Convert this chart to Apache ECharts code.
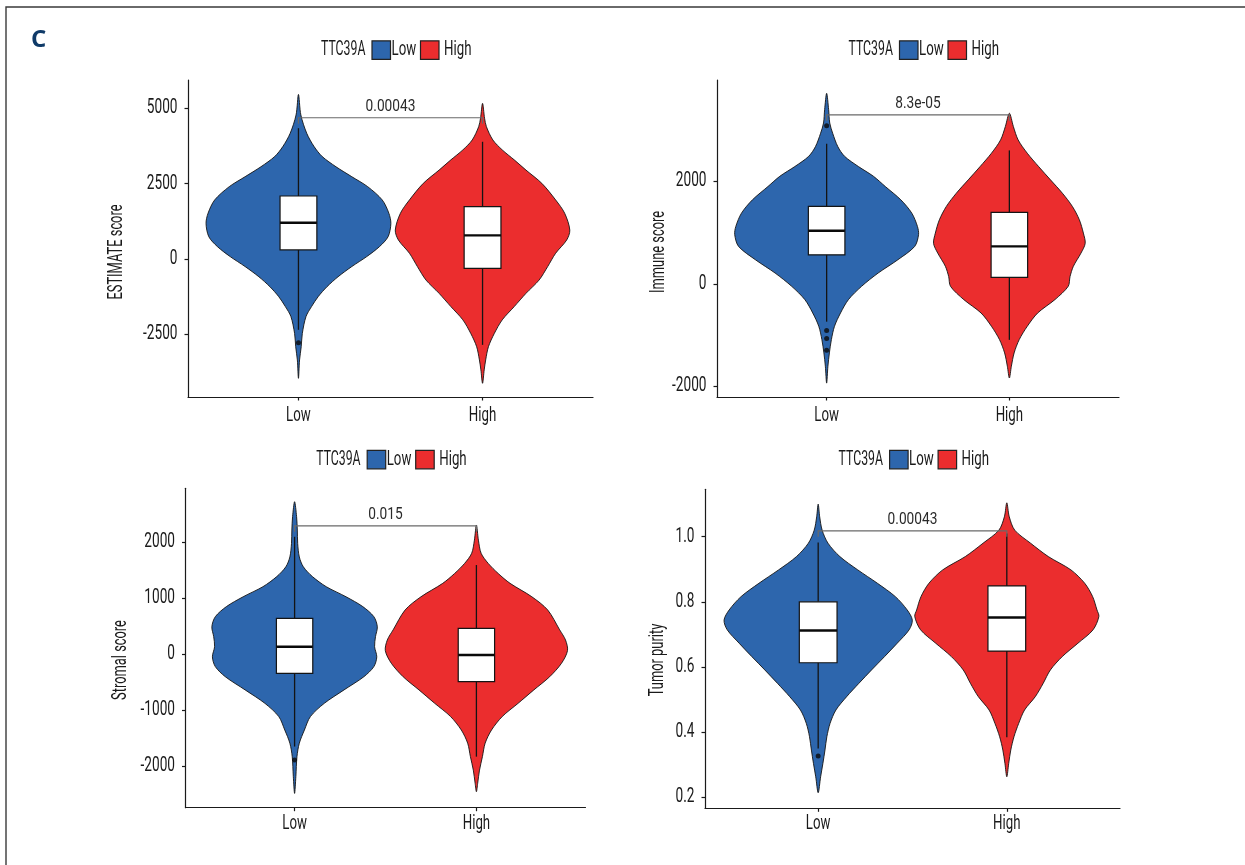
<!DOCTYPE html>
<html>
<head>
<meta charset="utf-8">
<script src="https://cdn.jsdelivr.net/npm/echarts@6/dist/echarts.min.js"></script>
<style>
  html, body { margin: 0; padding: 0; background: #ffffff; }
  #chart { width: 1245px; height: 865px; }
</style>
</head>
<body>
<div id="chart"></div>
<script>
// ---- data -------------------------------------------------------------
const categories = ['Low', 'High'];
const legendTitle = 'TTC39A';
const panelTitles = ['ESTIMATE score', 'Immune score', 'Stromal score', 'Tumor purity'];
const pValues = ['0.00043', '8.3e-05', '0.015', '0.00043'];
const bracketLevels = [4688, 3300, 2285, 1.018];

// y-axis ticks
const estimateTicks = [-2500, 0, 2500, 5000];
const immuneTicks = [-2000, 0, 2000];
const stromalTicks = [-2000, -1000, 0, 1000, 2000];
const purityTicks = [0.2, 0.4, 0.6, 0.8, 1.0];

// violin outlines: [score, half width of the violin in category units]
const estimateLowViolin = [[5460,0],[4780,0.013],[4170,0.045],[3730,0.085],[3400,0.129],[3060,0.204],[2730,0.290],[2400,0.376],[1960,0.455],[1520,0.491],[1180,0.502],[740,0.487],[410,0.440],[80,0.371],[-250,0.290],[-590,0.215],[-920,0.155],[-1250,0.107],[-1580,0.071],[-1910,0.041],[-2470,0.021],[-2910,0.015],[-3350,0.006],[-3960,0]];
const estimateHighViolin = [[5165,0],[4670,0.011],[4390,0.021],[3950,0.056],[3620,0.107],[3290,0.172],[2950,0.236],[2510,0.322],[1960,0.397],[1520,0.446],[960,0.474],[630,0.457],[190,0.397],[-250,0.354],[-700,0.307],[-1140,0.236],[-1580,0.172],[-2020,0.107],[-2470,0.064],[-2910,0.032],[-3350,0.017],[-3680,0.009],[-4125,0]];
const immuneLowViolin = [[3720,0],[3400,0.011],[3140,0.017],[2940,0.033],[2680,0.061],[2490,0.098],[2290,0.174],[2100,0.256],[1900,0.321],[1640,0.406],[1380,0.466],[1120,0.497],[960,0.503],[730,0.482],[470,0.390],[210,0.282],[-50,0.191],[-310,0.119],[-570,0.076],[-830,0.043],[-1090,0.026],[-1350,0.015],[-1610,0.007],[-1940,0]];
const immuneHighViolin = [[3330,0],[3070,0.022],[2810,0.048],[2550,0.098],[2290,0.160],[2030,0.225],[1770,0.290],[1510,0.345],[1250,0.383],[990,0.405],[790,0.415],[600,0.392],[340,0.350],[140,0.332],[-50,0.322],[-310,0.249],[-570,0.155],[-830,0.098],[-1090,0.054],[-1350,0.026],[-1610,0.011],[-1840,0]];
const stromalLowViolin = [[2715,0],[2450,0.011],[2210,0.015],[1970,0.017],[1730,0.026],[1555,0.048],[1380,0.098],[1200,0.174],[1020,0.283],[845,0.375],[665,0.436],[485,0.455],[310,0.445],[130,0.440],[-50,0.452],[-225,0.436],[-405,0.381],[-640,0.272],[-880,0.163],[-1115,0.087],[-1355,0.054],[-1590,0.026],[-1830,0.013],[-2185,0.007],[-2485,0]];
const stromalHighViolin = [[2300,0],[2030,0.011],[1795,0.026],[1615,0.065],[1435,0.120],[1260,0.185],[1020,0.305],[785,0.392],[430,0.458],[250,0.490],[60,0.501],[-165,0.468],[-405,0.403],[-640,0.316],[-880,0.229],[-1115,0.142],[-1355,0.083],[-1590,0.048],[-1830,0.033],[-2070,0.017],[-2305,0.007],[-2455,0]];
const purityLowViolin = [[1.100,0],[1.061,0.008],[1.020,0.021],[0.980,0.052],[0.939,0.115],[0.898,0.210],[0.857,0.314],[0.816,0.409],[0.775,0.472],[0.744,0.499],[0.714,0.482],[0.673,0.419],[0.632,0.352],[0.591,0.283],[0.550,0.216],[0.509,0.151],[0.468,0.094],[0.427,0.063],[0.386,0.046],[0.345,0.036],[0.304,0.025],[0.263,0.013],[0.214,0]];
const purityHighViolin = [[1.104,0],[1.061,0.013],[1.020,0.042],[0.980,0.126],[0.939,0.220],[0.898,0.340],[0.857,0.413],[0.816,0.455],[0.775,0.478],[0.755,0.488],[0.714,0.457],[0.673,0.377],[0.632,0.294],[0.591,0.231],[0.550,0.193],[0.509,0.151],[0.468,0.094],[0.427,0.063],[0.386,0.038],[0.345,0.021],[0.304,0.010],[0.263,0]];

// box statistics: [lower whisker, Q1, median, Q3, upper whisker]
const estimateLowBox = [-2350, 300, 1205, 2090, 4340];
const estimateHighBox = [-2850, -310, 785, 1735, 3890];
const immuneLowBox = [-740, 566, 1035, 1510, 2735];
const immuneHighBox = [-1095, 124, 730, 1393, 2605];
const stromalLowBox = [-1650, -345, 130, 636, 2090];
const stromalHighBox = [-1830, -493, -18, 457, 1586];
const purityLowBox = [0.350, 0.613, 0.712, 0.800, 0.982];
const purityHighBox = [0.384, 0.649, 0.752, 0.849, 1.010];

// outliers: [group (1 = Low, 2 = High), score]
const estimateOutliers = [[1, -2780]];
const immuneOutliers = [[1, 3085], [1, -910], [1, -1070], [1, -1300]];
const stromalOutliers = [[1, -1890]];
const purityOutliers = [[1, 0.327]];

// ---- layout & style ---------------------------------------------------
const FONT = "Roboto, 'DejaVu Sans', sans-serif";
const TEXT_COLOR = '#1a1a1a';
const GROUP_COLORS = ['#2d66ad', '#eb2d2e'];
const BOX_HALF = 0.1;
const X_MIN = 0.4, X_MAX = 2.6;
const FS = 19.5;              // main text size

const panels = [
  { grid: { left: 188, top: 80, width: 405, height: 317 }, yMin: -4580, yMax: 5940,
    ticks: estimateTicks, violins: [estimateLowViolin, estimateHighViolin],
    boxes: [estimateLowBox, estimateHighBox], outliers: estimateOutliers,
    legend: [321, 50.3], titlePos: [117, 252], catGap: 18.7, fmt: v => String(v) },
  { grid: { left: 717, top: 80, width: 402, height: 317 }, yMin: -2211, yMax: 3980,
    ticks: immuneTicks, violins: [immuneLowViolin, immuneHighViolin],
    boxes: [immuneLowBox, immuneHighBox], outliers: immuneOutliers,
    legend: [848.5, 50.3], titlePos: [659, 252], catGap: 18.7, fmt: v => String(v) },
  { grid: { left: 185.5, top: 488.3, width: 400, height: 319.4 }, yMin: -2740, yMax: 2954,
    ticks: stromalTicks, violins: [stromalLowViolin, stromalHighViolin],
    boxes: [stromalLowBox, stromalHighBox], outliers: stromalOutliers,
    legend: [316.2, 459.8], titlePos: [121.5, 660], catGap: 16, fmt: v => String(v) },
  { grid: { left: 705, top: 489.3, width: 415, height: 319 }, yMin: 0.1662, yMax: 1.1455,
    ticks: purityTicks, violins: [purityLowViolin, purityHighViolin],
    boxes: [purityLowBox, purityHighBox], outliers: purityOutliers,
    legend: [838.6, 459.8], titlePos: [658, 660], catGap: 16, fmt: v => v.toFixed(1) }
];

// condensed text element (horizontal squeeze gives a narrow face)
function label(text, x, y, align, vAlign, size, squeeze, color, rotation) {
  return {
    type: 'text', x: x, y: y, scaleX: squeeze, rotation: rotation || 0,
    style: { text: text, x: 0, y: 0, textAlign: align, textVerticalAlign: vAlign,
      font: size + 'px ' + FONT, fill: color || TEXT_COLOR }
  };
}

const chart = echarts.init(document.getElementById('chart'), null, { renderer: 'canvas' });

const grids = [], xAxes = [], yAxes = [], series = [], graphics = [];

panels.forEach((p, i) => {
  grids.push(Object.assign({ containLabel: false }, p.grid));

  xAxes.push({
    type: 'value', gridIndex: i, min: X_MIN, max: X_MAX,
    axisLine: { show: true, onZero: false, lineStyle: { color: '#1a1a1a', width: 1.2 } },
    axisTick: { show: true, length: 3.5, customValues: [1, 2], lineStyle: { color: '#1a1a1a', width: 1.2 } },
    axisLabel: { show: false },
    splitLine: { show: false }
  });

  yAxes.push({
    type: 'value', gridIndex: i, min: p.yMin, max: p.yMax,
    axisLine: { show: true, onZero: false, lineStyle: { color: '#1a1a1a', width: 1.2 } },
    axisTick: { show: true, length: 3.5, customValues: p.ticks, lineStyle: { color: '#1a1a1a', width: 1.2 } },
    axisLabel: { show: false },
    splitLine: { show: false }
  });

  // violins
  series.push({
    type: 'custom', xAxisIndex: i, yAxisIndex: i, z: 2, silent: true,
    data: [[1, 0], [2, 1]],
    renderItem: (params, api) => {
      const x = api.value(0);
      const k = api.value(1);
      const prof = p.violins[k];
      const right = prof.map(d => api.coord([x + d[1], d[0]]));
      const left = prof.slice(1, -1).reverse().map(d => api.coord([x - d[1], d[0]]));
      return {
        type: 'polygon',
        shape: { points: right.concat(left), smooth: 0.3 },
        style: { fill: GROUP_COLORS[k], stroke: '#141414', lineWidth: 0.9 }
      };
    }
  });

  // box plots
  series.push({
    type: 'custom', xAxisIndex: i, yAxisIndex: i, z: 3, silent: true,
    data: p.boxes.map((b, k) => [k + 1].concat(b)),
    renderItem: (params, api) => {
      const x = api.value(0);
      const wLo = api.coord([x, api.value(1)]);
      const wHi = api.coord([x, api.value(5)]);
      const q3L = api.coord([x - BOX_HALF, api.value(4)]);
      const q1R = api.coord([x + BOX_HALF, api.value(2)]);
      const medL = api.coord([x - BOX_HALF, api.value(3)]);
      const medR = api.coord([x + BOX_HALF, api.value(3)]);
      return {
        type: 'group',
        children: [
          { type: 'line', shape: { x1: wLo[0], y1: wLo[1], x2: wHi[0], y2: wHi[1] },
            style: { stroke: '#141414', lineWidth: 1.3 } },
          { type: 'rect', shape: { x: q3L[0], y: q3L[1], width: q1R[0] - q3L[0], height: q1R[1] - q3L[1] },
            style: { fill: '#ffffff', stroke: '#141414', lineWidth: 1.2 } },
          { type: 'line', shape: { x1: medL[0], y1: medL[1], x2: medR[0], y2: medR[1] },
            style: { stroke: '#0a0a0a', lineWidth: 2.4 } }
        ]
      };
    }
  });

  // outliers
  series.push({
    type: 'scatter', xAxisIndex: i, yAxisIndex: i, z: 4, silent: true,
    symbol: 'circle', symbolSize: 5,
    itemStyle: { color: '#0a0a0a' },
    data: p.outliers
  });

  // comparison bracket with p-value
  series.push({
    type: 'custom', xAxisIndex: i, yAxisIndex: i, z: 5, silent: true,
    data: [[1, 2, bracketLevels[i]]],
    renderItem: (params, api) => {
      const a = api.coord([api.value(0), api.value(2)]);
      const b = api.coord([api.value(1), api.value(2)]);
      const tip = 6;
      return {
        type: 'group',
        children: [
          { type: 'polyline',
            shape: { points: [[a[0], a[1] + tip], [a[0], a[1]], [b[0], b[1]], [b[0], b[1] + tip]] },
            style: { stroke: '#6a6a6a', lineWidth: 1.2, fill: null } },
          label(pValues[i], (a[0] + b[0]) / 2, a[1] - 10.8, 'center', 'middle', 16.5, 0.83, '#2a2a2a')
        ]
      };
    }
  });

  // y tick labels, placed through the y scale
  series.push({
    type: 'custom', xAxisIndex: i, yAxisIndex: i, z: 6, silent: true,
    data: p.ticks.map(v => [X_MIN, v]),
    renderItem: (params, api) => {
      const c = api.coord([api.value(0), api.value(1)]);
      return label(p.fmt(api.value(1)), c[0] - 10.5, c[1], 'right', 'middle', FS, 0.7);
    }
  });

  // category labels under the x axis
  series.push({
    type: 'custom', xAxisIndex: i, yAxisIndex: i, z: 6, silent: true,
    data: categories.map((c, k) => [k + 1, p.yMin]),
    renderItem: (params, api) => {
      const c = api.coord([api.value(0), api.value(1)]);
      return label(categories[params.dataIndex], c[0], c[1] + p.catGap, 'center', 'middle', FS, 0.68);
    }
  });

  // y-axis title
  graphics.push(label(panelTitles[i], p.titlePos[0], p.titlePos[1], 'center', 'middle', FS, 0.66, TEXT_COLOR, Math.PI / 2));

  // legend
  const lx = p.legend[0], ly = p.legend[1];
  graphics.push(
    label(legendTitle, lx, ly, 'left', 'middle', FS, 0.63),
    { type: 'rect', shape: { x: lx + 51, y: ly - 9.5, width: 18.5, height: 18.5 },
      style: { fill: GROUP_COLORS[0], stroke: '#222222', lineWidth: 1.2 } },
    label(categories[0], lx + 70.5, ly, 'left', 'middle', FS, 0.68),
    { type: 'rect', shape: { x: lx + 99.5, y: ly - 9.5, width: 18.5, height: 18.5 },
      style: { fill: GROUP_COLORS[1], stroke: '#222222', lineWidth: 1.2 } },
    label(categories[1], lx + 123, ly, 'left', 'middle', FS, 0.68)
  );
});

// figure frame and panel letter
graphics.push(
  { type: 'polyline', shape: { points: [[6, 865], [6, 7], [1245, 7]] },
    style: { stroke: '#3a3a3a', lineWidth: 1.4, fill: null } },
  { type: 'text', style: { text: 'C', x: 31, y: 40, textAlign: 'left', textVerticalAlign: 'middle',
      font: 'bold 24px "Open Sans", "Noto Sans", sans-serif', fill: '#0f3a68' } }
);

chart.setOption({
  animation: false,
  backgroundColor: '#ffffff',
  grid: grids,
  xAxis: xAxes,
  yAxis: yAxes,
  series: series,
  graphic: { elements: graphics }
});
</script>
</body>
</html>
